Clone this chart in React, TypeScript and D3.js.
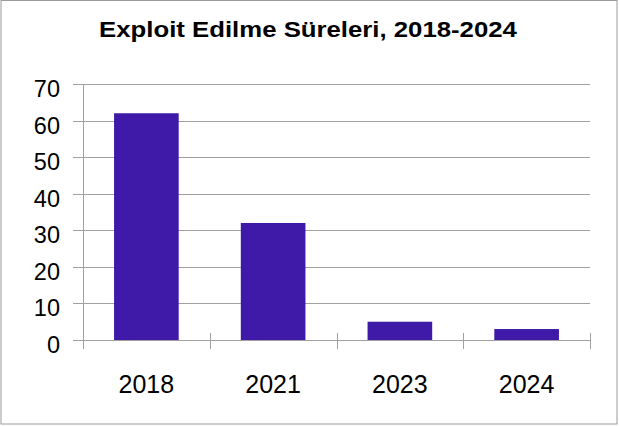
import { useRef, useEffect } from 'react';
import * as d3 from 'd3';

const categories = ['2018', '2021', '2023', '2024'];
const values = [62, 32, 5, 3];
const yTicks = [0, 10, 20, 30, 40, 50, 60, 70];
const title = 'Exploit Edilme Süreleri, 2018-2024';

const W = 619;
const H = 426;
const plot = { left: 83, right: 590, top: 84, bottom: 340 };
const barColor = '#3f1aa8';
const lineColor = '#a0a0a0';
const font = '"Liberation Sans", Arial, sans-serif';

export default function App() {
  const svgRef = useRef<SVGSVGElement>(null);

  useEffect(() => {
    if (!svgRef.current) return;
    const svg = d3.select(svgRef.current);
    svg.selectAll('*').remove();

    const x = d3
      .scaleBand<string>()
      .domain(categories)
      .range([plot.left, plot.right])
      .paddingInner(0.49)
      .paddingOuter(0.245);
    const y = d3.scaleLinear().domain([0, 70]).range([plot.bottom, plot.top]);

    // outer frame
    svg
      .append('rect')
      .attr('x', 1)
      .attr('y', 0.5)
      .attr('width', 616)
      .attr('height', 423.5)
      .attr('fill', '#fff')
      .attr('stroke', '#9a9a9a')
      .attr('stroke-width', 1);

    // title: the reference glyphs are wider than the font's own, so stretch it
    const titleText = svg
      .append('text')
      .attr('x', 0)
      .attr('y', 0)
      .attr('text-anchor', 'middle')
      .attr('font-family', font)
      .attr('font-weight', 'bold')
      .attr('font-size', '22px')
      .attr('fill', '#000')
      .text(title);
    const natural = (titleText.node() as SVGTextElement).getComputedTextLength() || 354;
    titleText.attr('transform', `translate(308,37) scale(${418 / natural},1)`);

    // gridlines + y ticks
    svg
      .append('g')
      .selectAll('line')
      .data(yTicks)
      .join('line')
      .attr('x1', plot.left - 10)
      .attr('x2', plot.right)
      .attr('y1', (d) => Math.round(y(d)) + 0.5)
      .attr('y2', (d) => Math.round(y(d)) + 0.5)
      .attr('stroke', lineColor)
      .attr('stroke-width', 1);

    svg
      .append('g')
      .selectAll('text')
      .data(yTicks)
      .join('text')
      .attr('x', 60)
      .attr('y', (d) => y(d) + 13)
      .attr('text-anchor', 'end')
      .attr('font-family', font)
      .attr('font-size', '23.5px')
      .attr('fill', '#000')
      .text((d) => d);

    // bars
    svg
      .append('g')
      .selectAll('rect')
      .data(values)
      .join('rect')
      .attr('x', (_d, i) => x(categories[i]) ?? 0)
      .attr('y', (d) => y(d))
      .attr('width', x.bandwidth())
      .attr('height', (d) => y(0) - y(d))
      .attr('fill', barColor);

    // y axis line (reaches down to the category ticks)
    svg
      .append('line')
      .attr('x1', plot.left + 0.5)
      .attr('x2', plot.left + 0.5)
      .attr('y1', plot.top)
      .attr('y2', plot.bottom + 9)
      .attr('stroke', lineColor);

    // x axis line
    svg
      .append('line')
      .attr('x1', plot.left - 10)
      .attr('x2', plot.right)
      .attr('y1', plot.bottom + 0.5)
      .attr('y2', plot.bottom + 0.5)
      .attr('stroke', lineColor);

    // category boundary ticks
    const step = x.step();
    const bounds = d3.range(categories.length + 1).map((i) => plot.left + i * step);
    svg
      .append('g')
      .selectAll('line')
      .data(bounds.slice(1))
      .join('line')
      .attr('x1', (d) => Math.round(d) + 0.5)
      .attr('x2', (d) => Math.round(d) + 0.5)
      .attr('y1', plot.bottom - 7)
      .attr('y2', plot.bottom + 9)
      .attr('stroke', lineColor);

    // category labels
    svg
      .append('g')
      .selectAll('text')
      .data(categories)
      .join('text')
      .attr('x', (d) => (x(d) ?? 0) + x.bandwidth() / 2)
      .attr('y', 393)
      .attr('text-anchor', 'middle')
      .attr('font-family', font)
      .attr('font-size', '25px')
      .attr('fill', '#000')
      .text((d) => d);
  }, []);

  return (
    <svg
      ref={svgRef}
      width={W}
      height={H}
      style={{ position: 'absolute', left: 0, top: 0, background: '#fff' }}
    />
  );
}
